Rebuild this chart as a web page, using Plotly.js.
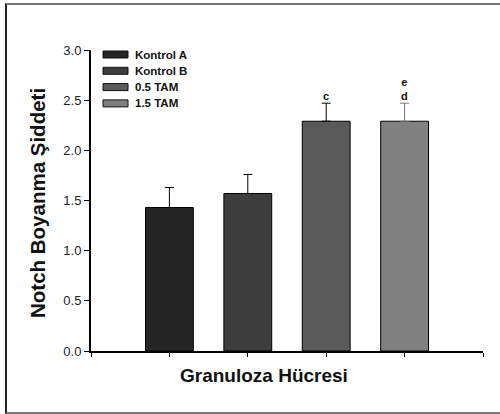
<!DOCTYPE html>
<html>
<head>
<meta charset="utf-8">
<script src="https://cdn.plot.ly/plotly-3.0.1.min.js"></script>
<style>
html,body{margin:0;padding:0;background:#fff;}
#wrap{position:relative;width:500px;height:414px;overflow:hidden;}
#frame{position:absolute;left:5px;top:3px;width:510px;height:407px;border-left:2px solid #222;border-top:2px solid #777;border-bottom:2px solid #777;pointer-events:none;z-index:5;}
#chart{position:absolute;left:0;top:0;width:500px;height:414px;}
</style>
</head>
<body>
<div id="wrap"><div id="chart"></div><div id="frame"></div></div>
<script>
var categories = ["Kontrol A", "Kontrol B", "0.5 TAM", "1.5 TAM"];
var positions = [1, 2, 3, 4];
var means = [1.43, 1.57, 2.29, 2.29];
var errors = [0.20, 0.19, 0.18, 0.18];
var letters = ["", "", "c", "e<br>d"];
var colors = ["#252525", "#3d3d3d", "#5a5a5a", "#808080"];
var errColors = ["#000", "#000", "#000", "#777"];
var yTicks = [0, 0.5, 1.0, 1.5, 2.0, 2.5, 3.0];
var xTitle = "Granuloza Hücresi";
var yTitle = "Notch Boyanma Şiddeti";

var traces = categories.map(function(c, i){
  return {
    type: 'bar', name: c, x: [positions[i]], y: [means[i]], width: 0.61,
    marker: {color: colors[i], line: {color: '#000', width: 1}},
    error_y: {type: 'data', array: [errors[i]], visible: true, symmetric: false, arrayminus: [0], color: errColors[i], thickness: 1, width: 4.5},
    showlegend: false, hoverinfo: 'none'
  };
});

var shapes = [], annotations = [];
// custom legend
var legY0 = 54.5, legStep = 16.3;
categories.forEach(function(c, i){
  var yc = legY0 + i*legStep;
  shapes.push({type:'rect', xref:'paper', yref:'paper',
    x0:(103-91)/392, x1:(128-91)/392,
    y0:(351-(yc-3.5))/301, y1:(351-(yc+3.5))/301,
    fillcolor: colors[i], line:{color:'#111', width:1}});
  annotations.push({xref:'paper', yref:'paper', x:(133-91)/392, y:(351-yc)/301,
    xanchor:'left', yanchor:'middle', showarrow:false, text:'<b>'+c+'</b>',
    font:{family:'Liberation Sans Narrow, Arial Narrow, Arial, sans-serif', size:11.5, color:'#111'}});
});
// significance letters
categories.forEach(function(c, i){
  if (letters[i]) {
    annotations.push({x: positions[i], y: means[i]+errors[i], xref:'x', yref:'y',
      yanchor:'bottom', showarrow:false, text:'<b>'+letters[i]+'</b>', yshift:-1,
      font:{family:'Arial, Liberation Sans, sans-serif', size:11, color:'#111'}});
  }
});
// axis titles
annotations.push({xref:'paper', yref:'paper', x:(264-91)/392, y:(351-375)/301,
  xanchor:'center', yanchor:'middle', showarrow:false, text:'<b>'+xTitle+'</b>',
  font:{family:'Arial, Liberation Sans, sans-serif', size:19, color:'#111'}});
annotations.push({xref:'paper', yref:'paper', x:(37-91)/392, y:(351-203)/301,
  xanchor:'center', yanchor:'middle', showarrow:false, textangle:-90, text:'<b>'+yTitle+'</b>',
  font:{family:'Arial, Liberation Sans, sans-serif', size:20.5, color:'#111'}});

var layout = {
  width: 500, height: 414,
  margin: {l: 91, r: 17, t: 50, b: 63},
  paper_bgcolor: '#fff', plot_bgcolor: '#fff',
  font: {family: 'Arial, Liberation Sans, sans-serif', color: '#222'},
  xaxis: {range: [0, 5], tickvals: [0,1,2,3,4,5], ticktext: ['','','','','',''],
    ticks: 'outside', ticklen: 4, tickcolor: '#000', tickwidth: 1,
    showline: true, linecolor: '#000', linewidth: 2, showgrid: false, zeroline: false, fixedrange: true},
  yaxis: {range: [0, 3], tickvals: yTicks, ticktext: yTicks.map(function(v){return v.toFixed(1);}),
    ticks: 'outside', ticklen: 5, tickcolor: '#000', tickwidth: 1,
    tickfont: {size: 13, color: '#222'},
    showline: true, linecolor: '#000', linewidth: 2, showgrid: false, zeroline: false, fixedrange: true},
  shapes: shapes, annotations: annotations, showlegend: false, bargap: 0
};

Plotly.newPlot('chart', traces, layout, {displayModeBar: false, staticPlot: true});
</script>
</body>
</html>
